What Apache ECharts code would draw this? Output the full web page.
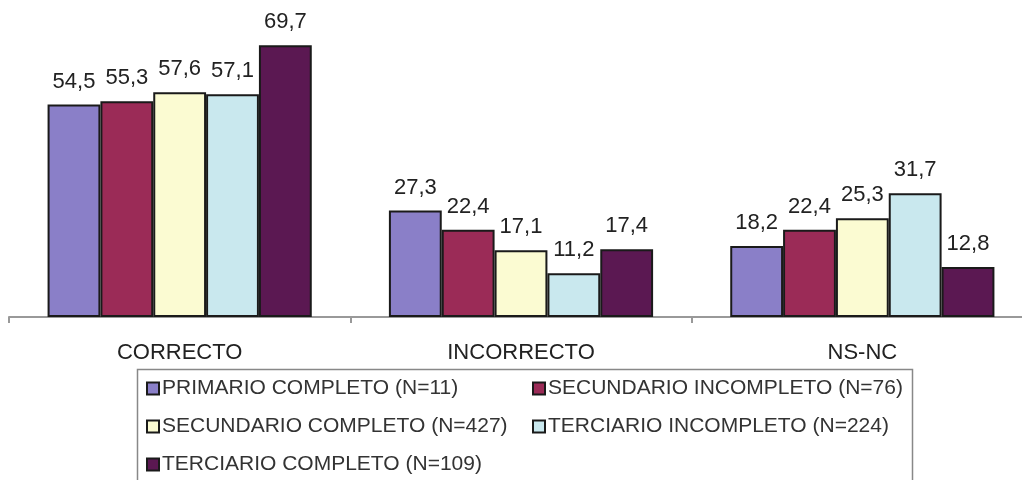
<!DOCTYPE html>
<html>
<head>
<meta charset="utf-8">
<script src="https://cdn.jsdelivr.net/npm/echarts@6/dist/echarts.min.js"></script>
<style>
html,body{margin:0;padding:0;background:#fff;overflow:hidden;width:1022px;height:480px;}
#chart{width:1033px;height:480px;}
</style>
</head>
<body>
<div id="chart"></div>
<script>
const categories = ['CORRECTO', 'INCORRECTO', 'NS-NC'];
const seriesNames = [
  'PRIMARIO COMPLETO (N=11)',
  'SECUNDARIO INCOMPLETO (N=76)',
  'SECUNDARIO COMPLETO (N=427)',
  'TERCIARIO INCOMPLETO (N=224)',
  'TERCIARIO COMPLETO (N=109)'
];
const primarioCompleto = [54.5, 27.3, 18.2];
const secundarioIncompleto = [55.3, 22.4, 22.4];
const secundarioCompleto = [57.6, 17.1, 25.3];
const terciarioIncompleto = [57.1, 11.2, 31.7];
const terciarioCompleto = [69.7, 17.4, 12.8];
const colors = ['#8a7fc8', '#9b2b57', '#fbfbd2', '#c9e8ee', '#5b1852'];

const values = [primarioCompleto, secundarioIncompleto, secundarioCompleto, terciarioIncompleto, terciarioCompleto];
const FONT = '"Liberation Sans", Arial, sans-serif';

const series = values.map((d, i) => ({
  name: seriesNames[i],
  type: 'bar',
  data: d,
  barGap: '0%',
  barCategoryGap: '22.6%',
  itemStyle: { color: colors[i], borderColor: '#1a1a1a', borderWidth: 2 },
  label: {
    show: true,
    position: 'top',
    distance: 12,
    fontSize: 22,
    fontFamily: FONT,
    color: '#222',
    formatter: p => p.value.toFixed(1).replace('.', ',')
  }
}));

const legendPos = [
  { left: 146, top: 378 },
  { left: 532, top: 378 },
  { left: 146, top: 416 },
  { left: 532, top: 416 },
  { left: 146, top: 454 }
];
const legends = seriesNames.map((n, i) => ({
  data: [n],
  left: legendPos[i].left,
  top: legendPos[i].top,
  icon: 'rect',
  itemWidth: 12,
  itemHeight: 12,
  padding: 0,
  selectedMode: false,
  textStyle: { fontSize: 21, fontFamily: FONT, color: '#333', padding: [0, 0, 0, -2] }
}));

const chart = echarts.init(document.getElementById('chart'), null, { renderer: 'canvas' });
chart.setOption({
  animation: false,
  backgroundColor: '#fff',
  grid: { left: 9, right: 0, top: 5, bottom: 163, containLabel: false },
  xAxis: {
    type: 'category',
    data: categories,
    axisLine: { lineStyle: { color: '#999', width: 2 } },
    axisTick: { show: true, length: 6, lineStyle: { color: '#999', width: 2 } },
    axisLabel: { fontSize: 22, fontFamily: FONT, color: '#222', margin: 25 }
  },
  yAxis: {
    type: 'value',
    min: 0,
    max: 80,
    show: false,
    splitLine: { show: false }
  },
  legend: legends,
  graphic: [{
    type: 'rect',
    left: 135,
    top: 367,
    shape: { width: 775, height: 130 },
    style: { fill: 'none', stroke: '#888', lineWidth: 1.5 },
    silent: true
  }],
  series: series
});
</script>
</body>
</html>
